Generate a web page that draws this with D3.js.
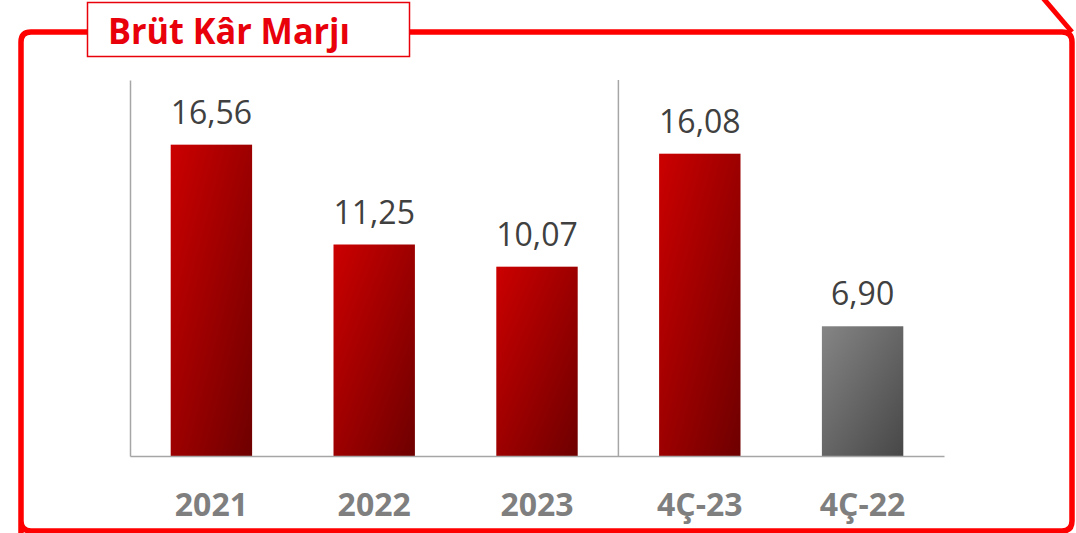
<!DOCTYPE html>
<html>
<head>
<meta charset="utf-8">
<script src="https://cdn.jsdelivr.net/npm/d3@7"></script>
<style>
    html, body { margin: 0; padding: 0; background: #fff; }
    #graph { width: 1076px; height: 533px; }
</style>
</head>
<body>
<div id="graph"></div>
<script>
// data
let categories = ["2021", "2022", "2023", "4Ç-23", "4Ç-22"];
let values = [16.56, 11.25, 10.07, 16.08, 6.90];
let barColors = ["red", "red", "red", "red", "gray"];
let title = "Brüt Kâr Marjı";

const width = 1076,
    height = 533;

let svg = d3.select("#graph")
    .append("svg")
    .attr("width", width)
    .attr("height", height);

// gradients for the bars
let defs = svg.append("defs");

let grad = {
    red: ["#cc0000", "#6e0000"],
    gray: ["#858585", "#474747"]
};

Object.keys(grad).forEach(function (k) {
    let g = defs.append("linearGradient")
        .attr("id", "grad-" + k)
        .attr("x1", 0).attr("y1", 0)
        .attr("x2", 1).attr("y2", 1);
    g.append("stop").attr("offset", "0%").attr("stop-color", grad[k][0]);
    g.append("stop").attr("offset", "100%").attr("stop-color", grad[k][1]);
});

// red frame round the whole thing
let fx0 = 21, fy0 = 32, fx1 = 1072, fy1 = 531, r = 10;

svg.append("path")
    .attr("d", "M" + fx0 + "," + (fy1 + 10) +
        "V" + (fy0 + r) +
        "Q" + fx0 + "," + fy0 + " " + (fx0 + r) + "," + fy0 +
        "H" + (fx1 - r) +
        "Q" + fx1 + "," + fy0 + " " + fx1 + "," + (fy0 + r) +
        "V" + (fy1 - r) +
        "Q" + fx1 + "," + fy1 + " " + (fx1 - r) + "," + fy1 +
        "H" + (fx0 + r) +
        "Q" + fx0 + "," + fy1 + " " + fx0 + "," + (fy1 - r))
    .style("fill", "none")
    .style("stroke", "#ff0000")
    .style("stroke-width", 5.5);

// little diagonal at top right corner
svg.append("line")
    .attr("x1", 1043).attr("y1", -2)
    .attr("x2", fx1).attr("y2", fy0)
    .style("stroke", "#ff0000")
    .style("stroke-width", 5);

// title box
svg.append("rect")
    .attr("x", 87.5).attr("y", 2.5)
    .attr("width", 322).attr("height", 54)
    .style("fill", "#fff")
    .style("stroke", "#e8000b")
    .style("stroke-width", 1.5);

svg.append("text")
    .attr("x", 108)
    .attr("y", 44)
    .attr("textLength", 242)
    .attr("lengthAdjust", "spacingAndGlyphs")
    .style("font-family", "'Open Sans', sans-serif")
    .style("font-weight", "bold")
    .style("font-size", "36px")
    .style("fill", "#e8000b")
    .text(title);

// scales
let x = d3.scaleBand()
    .domain(categories)
    .range([130, 944])
    .paddingInner(0.5)
    .paddingOuter(0.25);

let y = d3.scaleLinear()
    .domain([0, 20])
    .range([456, 80]);

// left axis, no ticks
let yAxis = svg.append("g")
    .attr("transform", "translate(130,0)")
    .call(d3.axisLeft(y).tickSize(0).tickValues([]));

yAxis.select(".domain")
    .style("stroke", "#a6a6a6")
    .style("stroke-width", 1.5);

// divider between yearly and quarterly bars
let divX = (x("2023") + x.bandwidth() + x("4Ç-23")) / 2;

svg.append("line")
    .attr("x1", divX).attr("x2", divX)
    .attr("y1", y(20)).attr("y2", y(0))
    .style("stroke", "#a6a6a6")
    .style("stroke-width", 1.5);

// bars
svg.selectAll(".bar")
    .data(values)
    .enter()
    .append("rect")
    .attr("class", "bar")
    .attr("x", function (d, i) {
        return x(categories[i]);
    })
    .attr("y", function (d) {
        return y(d);
    })
    .attr("width", x.bandwidth())
    .attr("height", function (d) {
        return y(0) - y(d);
    })
    .style("fill", function (d, i) {
        return "url(#grad-" + barColors[i] + ")";
    });

// bottom axis with the category names
let xAxis = svg.append("g")
    .attr("transform", "translate(0," + y(0) + ")")
    .call(d3.axisBottom(x).tickSize(0).tickPadding(37));

xAxis.select(".domain")
    .style("stroke", "#a6a6a6")
    .style("stroke-width", 1.5);

xAxis.selectAll("text")
    .style("font-family", "'Open Sans', sans-serif")
    .style("font-weight", "bold")
    .style("font-size", "32px")
    .style("fill", "#7f7f7f");

// value labels
svg.selectAll(".label")
    .data(values)
    .enter()
    .append("text")
    .attr("class", "label")
    .attr("x", function (d, i) {
        return x(categories[i]) + x.bandwidth() / 2;
    })
    .attr("y", function (d) {
        return y(d) - 21;
    })
    .attr("text-anchor", "middle")
    .style("font-family", "'Open Sans', sans-serif")
    .style("font-size", "32px")
    .style("fill", "#404040")
    .text(function (d) {
        return d.toFixed(2).replace(".", ",");
    });
</script>
</body>
</html>
